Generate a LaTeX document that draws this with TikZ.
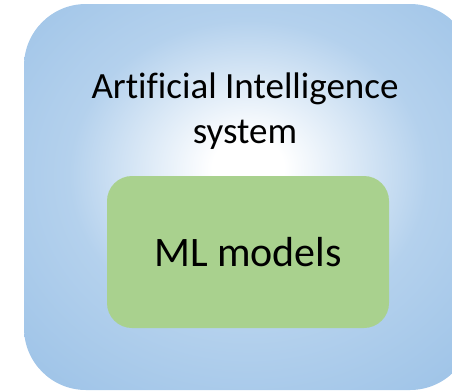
\documentclass[tikz,border=0pt]{standalone}
\usepackage{fontspec}
\setmainfont[Ligatures=NoCommon,RawFeature={-liga;-clig;-dlig;-calt}]{Carlito}
\definecolor{mlgreen}{HTML}{A9D18E}
\definecolor{bluemid}{HTML}{B4D1ED}
\definecolor{blueedge}{HTML}{8CB8E3}
\definecolor{bluecorner}{HTML}{5E9BD5}
\pgfdeclareradialshading{aishade}{\pgfpoint{0bp}{4bp}}{%
  color(0bp)=(white);
  color(4bp)=(white);
  color(20bp)=(bluemid);
  color(48bp)=(blueedge);
  color(71bp)=(bluecorner)}
\begin{document}
\begin{tikzpicture}[x=1pt,y=-1pt,
  outerbox/.style={draw=none,shading=aishade,rounded corners=62pt,
    minimum width=448pt,minimum height=386pt,inner sep=0pt},
  innerbox/.style={draw=none,fill=mlgreen,rounded corners=25pt,
    minimum width=282pt,minimum height=152pt,inner sep=0pt,
    font=\fontsize{42}{50}\selectfont},
  title/.style={anchor=base,inner sep=0pt,font=\fontsize{37}{44.5}\selectfont}]
\useasboundingbox (0,0) rectangle (452,391);
\clip (0,0) rectangle (452,391);
\node[outerbox] (outer) at (248,197) {};
\node[title] (line1) at (245,98.5) {Art\kern0pt if\kern0pt icial Intelligence};
\node[title] (line2) at (245,143) {system};
\node[innerbox] (ml) at (248,252) {ML models};
\end{tikzpicture}
\end{document}
